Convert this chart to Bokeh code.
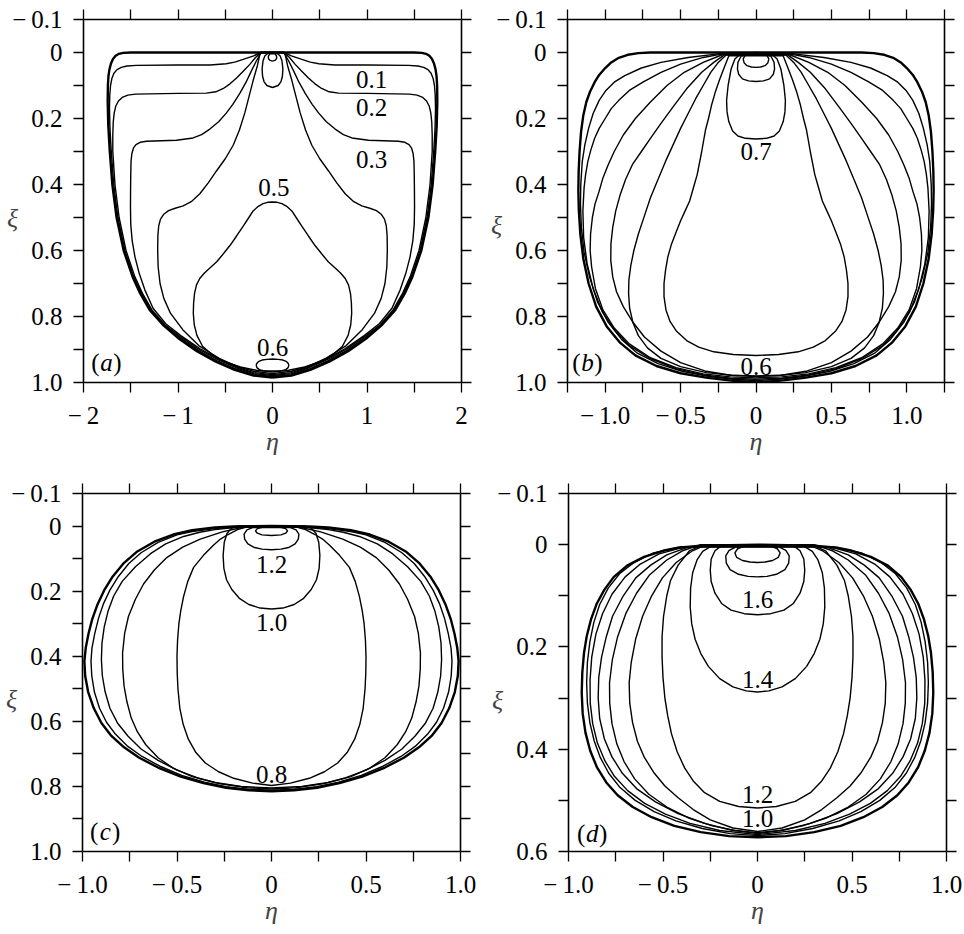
from bokeh.plotting import figure
from bokeh.models import Range1d, LinearAxis, FixedTicker, ColumnDataSource
from bokeh.layouts import column, row
from bokeh.embed import file_html
from bokeh.resources import INLINE
from bokeh.core.properties import value

SERIF = "Liberation Serif"
M = "\u2212\u2009"
FS = "25px"

# ---------------- tick values / labels ----------------
x_ticks_a = [-2.0, -1.5, -1.0, -0.5, 0.0, 0.5, 1.0, 1.5, 2.0]
x_labels_a = [M + "2", "", M + "1", "", "0", "", "1", "", "2"]
x_ticks_b = [-1.25, -1.0, -0.75, -0.5, -0.25, 0.0, 0.25, 0.5, 0.75, 1.0, 1.25]
x_labels_b = ["", M + "1.0", "", M + "0.5", "", "0", "", "0.5", "", "1.0", ""]
x_ticks_cd = [-1.0, -0.75, -0.5, -0.25, 0.0, 0.25, 0.5, 0.75, 1.0]
x_labels_cd = [M + "1.0", "", M + "0.5", "", "0", "", "0.5", "", "1.0"]
y_ticks_abc = [-0.1, 0.0, 0.1, 0.2, 0.3, 0.4, 0.5, 0.6, 0.7, 0.8, 0.9, 1.0]
y_labels_abc = [M + "0.1", "0", "", "0.2", "", "0.4", "", "0.6", "", "0.8", "", "1.0"]
y_ticks_d = [-0.1, 0.0, 0.1, 0.2, 0.3, 0.4, 0.5, 0.6]
y_labels_d = [M + "0.1", "0", "", "0.2", "", "0.4", "", "0.6"]

# ---------------- panel (a): right halves (eta, xi) ----------------
a_boundary = [(0.0, 0.0), (1.0, 0.0), (1.5, 0.0), (1.58, 0.001), (1.625, 0.004), (1.66, 0.01), (1.688, 0.02),
              (1.71, 0.034), (1.726, 0.052), (1.736, 0.072), (1.742, 0.1), (1.744, 0.15), (1.738, 0.22),
              (1.722, 0.3), (1.695, 0.4), (1.65, 0.5), (1.575, 0.6), (1.48, 0.68), (1.4, 0.73), (1.3, 0.78),
              (1.16, 0.825), (1.0, 0.865), (0.8, 0.905), (0.6, 0.937), (0.4, 0.962), (0.2, 0.979), (0.0, 0.985)]
a_c01 = [(0.12, 0.0), (0.2, 0.01), (0.31, 0.021), (0.4, 0.029), (0.49, 0.034), (0.66, 0.038), (1.0, 0.038),
         (1.44, 0.039), (1.54, 0.041), (1.6, 0.045), (1.645, 0.052), (1.678, 0.063), (1.7, 0.079), (1.714, 0.1),
         (1.722, 0.13), (1.725, 0.17), (1.72, 0.23), (1.706, 0.3), (1.68, 0.4), (1.636, 0.5), (1.562, 0.6),
         (1.468, 0.68), (1.388, 0.73), (1.288, 0.78), (1.15, 0.825), (0.99, 0.862), (0.79, 0.902), (0.59, 0.934),
         (0.39, 0.959), (0.2, 0.976), (0.0, 0.982)]
a_c02 = [(0.12, 0.0), (0.18, 0.015), (0.24, 0.036), (0.31, 0.057), (0.38, 0.077), (0.45, 0.095), (0.52, 0.109),
         (0.6, 0.119), (0.7, 0.123), (1.0, 0.124), (1.45, 0.126), (1.53, 0.129), (1.59, 0.136), (1.63, 0.147),
         (1.658, 0.162), (1.675, 0.183), (1.685, 0.21), (1.69, 0.25), (1.69, 0.3), (1.667, 0.4), (1.623, 0.5),
         (1.55, 0.6), (1.456, 0.68), (1.376, 0.73), (1.276, 0.78), (1.14, 0.825), (0.98, 0.86), (0.78, 0.899),
         (0.58, 0.931), (0.38, 0.956), (0.2, 0.973), (0.0, 0.979)]
a_c03 = [(0.12, 0.0), (0.17, 0.025), (0.222, 0.055), (0.28, 0.09), (0.346, 0.124), (0.42, 0.157), (0.487, 0.183),
         (0.57, 0.21), (0.663, 0.232), (0.75, 0.249), (0.84, 0.259), (1.016, 0.266), (1.333, 0.269), (1.4, 0.272),
         (1.445, 0.279), (1.472, 0.29), (1.488, 0.306), (1.497, 0.33), (1.5, 0.37), (1.502, 0.42), (1.503, 0.47),
         (1.5, 0.52), (1.485, 0.57), (1.455, 0.62), (1.41, 0.67), (1.35, 0.72), (1.264, 0.775), (1.13, 0.822),
         (0.97, 0.858), (0.77, 0.897), (0.57, 0.929), (0.37, 0.954), (0.2, 0.97), (0.0, 0.976)]
a_c04 = [(0.13, 0.0), (0.16, 0.04), (0.205, 0.085), (0.25, 0.135), (0.293, 0.183), (0.35, 0.235), (0.416, 0.281),
         (0.5, 0.322), (0.593, 0.359), (0.68, 0.395), (0.769, 0.428), (0.86, 0.452), (0.945, 0.465), (1.03, 0.472),
         (1.1, 0.479), (1.15, 0.49), (1.185, 0.505), (1.204, 0.525), (1.213, 0.555), (1.215, 0.6), (1.21, 0.65),
         (1.19, 0.7), (1.15, 0.745), (1.08, 0.79), (0.95, 0.84), (0.78, 0.888), (0.57, 0.926), (0.37, 0.952),
         (0.2, 0.966), (0.0, 0.973)]
a_c05 = [(0.0, 0.453), (0.05, 0.454), (0.1, 0.458), (0.15, 0.466), (0.205, 0.48), (0.25, 0.5), (0.31, 0.526),
         (0.38, 0.556), (0.45, 0.585), (0.52, 0.61), (0.59, 0.634), (0.66, 0.652), (0.72, 0.668), (0.77, 0.685),
         (0.805, 0.705), (0.825, 0.73), (0.835, 0.76), (0.838, 0.79), (0.828, 0.825), (0.8, 0.857), (0.74, 0.89),
         (0.64, 0.915), (0.52, 0.935), (0.34, 0.953), (0.17, 0.963), (0.0, 0.968)]
a_c06 = [(0.0, 0.929), (0.06, 0.93), (0.11, 0.932), (0.15, 0.937), (0.168, 0.943), (0.172, 0.948), (0.165, 0.955),
         (0.14, 0.961), (0.1, 0.964), (0.0, 0.965)]
a_c07 = [(0.0, 0.0), (0.05, 0.003), (0.08, 0.01), (0.1, 0.025), (0.11, 0.05), (0.105, 0.072), (0.09, 0.088),
         (0.06, 0.1), (0.0, 0.106)]
a_c08 = [(0.0, 0.003), (0.025, 0.004), (0.04, 0.009), (0.045, 0.014), (0.04, 0.02), (0.025, 0.024), (0.0, 0.026)]

# ---------------- panel (b) ----------------
b_boundary = [(0.0, 0.0), (0.7, 0.0), (0.78, 0.002), (0.85, 0.007), (0.91, 0.016), (0.96, 0.03), (1.0, 0.047),
              (1.04, 0.068), (1.07, 0.09), (1.1, 0.118), (1.125, 0.15), (1.145, 0.19), (1.16, 0.24), (1.17, 0.3),
              (1.176, 0.36), (1.178, 0.418), (1.175, 0.477), (1.165, 0.55), (1.145, 0.625), (1.11, 0.7),
              (1.06, 0.77), (0.99, 0.83), (0.9, 0.88), (0.8, 0.918), (0.66, 0.95), (0.5, 0.972), (0.32, 0.986),
              (0.15, 0.995), (0.0, 0.998)]
b_f6 = [(0.25, 0.004), (0.45, 0.015), (0.63, 0.03), (0.76, 0.047), (0.87, 0.07), (0.94, 0.09), (0.995, 0.115),
        (1.04, 0.145), (1.08, 0.185), (1.11, 0.23), (1.135, 0.28), (1.152, 0.33), (1.162, 0.4), (1.164, 0.46),
        (1.158, 0.53), (1.14, 0.605), (1.104, 0.68), (1.052, 0.755), (0.98, 0.818), (0.89, 0.87), (0.79, 0.91),
        (0.65, 0.943), (0.49, 0.966), (0.31, 0.982), (0.15, 0.99), (0.0, 0.994)]
b_f5 = [(0.23, 0.005), (0.35, 0.015), (0.5, 0.035), (0.63, 0.06), (0.75, 0.09), (0.84, 0.115), (0.91, 0.145),
        (0.96, 0.17), (1.0, 0.2), (1.04, 0.23), (1.07, 0.26), (1.095, 0.295), (1.115, 0.33), (1.13, 0.37),
        (1.14, 0.41), (1.148, 0.48), (1.143, 0.56), (1.12, 0.64), (1.08, 0.715), (1.02, 0.785), (0.94, 0.84),
        (0.84, 0.888), (0.7, 0.928), (0.53, 0.958), (0.35, 0.977), (0.17, 0.987), (0.0, 0.99)]
b_f4 = [(0.22, 0.006), (0.35, 0.03), (0.476, 0.06), (0.59, 0.1), (0.70, 0.15), (0.8, 0.2), (0.88, 0.25),
        (0.94, 0.3), (0.98, 0.34), (1.015, 0.38), (1.04, 0.42), (1.068, 0.46), (1.085, 0.5), (1.097, 0.55),
        (1.1, 0.6), (1.09, 0.65), (1.065, 0.715), (1.015, 0.78), (0.94, 0.835), (0.84, 0.883), (0.7, 0.925),
        (0.53, 0.955), (0.35, 0.974), (0.17, 0.983), (0.0, 0.986)]
b_f3 = [(0.21, 0.007), (0.28, 0.03), (0.36, 0.06), (0.46, 0.11), (0.55, 0.165), (0.63, 0.215), (0.7, 0.26),
        (0.76, 0.3), (0.82, 0.34), (0.865, 0.385), (0.9, 0.43), (0.93, 0.48), (0.95, 0.53), (0.962, 0.58),
        (0.963, 0.63), (0.95, 0.68), (0.925, 0.725), (0.88, 0.77), (0.82, 0.815), (0.74, 0.862), (0.63, 0.905),
        (0.5, 0.94), (0.34, 0.965), (0.17, 0.978), (0.0, 0.982)]
b_f2 = [(0.2, 0.008), (0.25, 0.03), (0.3, 0.06), (0.35, 0.1), (0.4, 0.14), (0.45, 0.185), (0.5, 0.23),
        (0.55, 0.28), (0.6, 0.33), (0.65, 0.385), (0.7, 0.44), (0.74, 0.495), (0.78, 0.55), (0.81, 0.6),
        (0.83, 0.645), (0.843, 0.69), (0.845, 0.73), (0.838, 0.775), (0.815, 0.82), (0.78, 0.858), (0.72, 0.895),
        (0.63, 0.927), (0.5, 0.952), (0.33, 0.97), (0.16, 0.978), (0.0, 0.98)]
b_f1 = [(0.18, 0.01), (0.21, 0.045), (0.24, 0.08), (0.27, 0.12), (0.295, 0.16), (0.315, 0.2), (0.335, 0.235),
        (0.36, 0.3), (0.39, 0.37), (0.415, 0.41), (0.44, 0.45), (0.47, 0.48), (0.5, 0.51), (0.53, 0.545),
        (0.56, 0.58), (0.585, 0.62), (0.6, 0.66), (0.61, 0.7), (0.61, 0.74), (0.597, 0.78), (0.57, 0.815),
        (0.53, 0.843), (0.46, 0.873), (0.38, 0.893), (0.28, 0.907), (0.15, 0.915), (0.0, 0.918)]
b_l3 = [(0.0, 0.0), (0.1, 0.003), (0.14, 0.02), (0.165, 0.05), (0.185, 0.1), (0.195, 0.145), (0.192, 0.18),
        (0.18, 0.21), (0.155, 0.238), (0.12, 0.253), (0.07, 0.26), (0.0, 0.262)]
b_l2 = [(0.0, 0.002), (0.07, 0.004), (0.1, 0.012), (0.12, 0.03), (0.123, 0.05), (0.115, 0.066), (0.09, 0.08),
        (0.05, 0.086), (0.0, 0.088)]
b_l1 = [(0.0, 0.002), (0.05, 0.004), (0.075, 0.01), (0.085, 0.02), (0.078, 0.032), (0.06, 0.04), (0.03, 0.044),
        (0.0, 0.045)]

# ---------------- panel (c) ----------------
c_boundary = [(0.0, 0.0), (0.2, 0.001), (0.3, 0.004), (0.42, 0.013), (0.52, 0.026), (0.62, 0.048), (0.71, 0.078),
              (0.78, 0.113), (0.84, 0.155), (0.885, 0.197), (0.92, 0.24), (0.948, 0.285), (0.968, 0.33),
              (0.983, 0.375), (0.99, 0.415), (0.986, 0.46), (0.97, 0.51), (0.94, 0.56), (0.9, 0.605),
              (0.85, 0.643), (0.78, 0.68), (0.70, 0.712), (0.6, 0.742), (0.48, 0.77), (0.36, 0.79), (0.24, 0.804),
              (0.12, 0.812), (0.0, 0.815)]
c_c4 = [(0.19, 0.003), (0.3, 0.008), (0.42, 0.017), (0.5, 0.027), (0.6, 0.05), (0.69, 0.082), (0.755, 0.115),
        (0.81, 0.155), (0.855, 0.197), (0.89, 0.24), (0.915, 0.283), (0.935, 0.33), (0.95, 0.375), (0.955, 0.415),
        (0.951, 0.46), (0.937, 0.51), (0.91, 0.56), (0.873, 0.603), (0.825, 0.64), (0.76, 0.677), (0.685, 0.708),
        (0.59, 0.738), (0.475, 0.766), (0.355, 0.787), (0.24, 0.801), (0.12, 0.809), (0.0, 0.812)]
c_c3 = [(0.17, 0.003), (0.3, 0.011), (0.38, 0.019), (0.465, 0.032), (0.56, 0.055), (0.64, 0.085), (0.72, 0.125),
        (0.79, 0.17), (0.835, 0.215), (0.865, 0.262), (0.885, 0.31), (0.897, 0.36), (0.9, 0.41), (0.895, 0.46),
        (0.88, 0.51), (0.855, 0.56), (0.815, 0.605), (0.76, 0.645), (0.69, 0.685), (0.6, 0.72), (0.5, 0.75),
        (0.39, 0.774), (0.27, 0.792), (0.13, 0.804), (0.0, 0.808)]
c_c2 = [(0.147, 0.003), (0.26, 0.018), (0.377, 0.04), (0.47, 0.065), (0.554, 0.097), (0.62, 0.135),
        (0.677, 0.178), (0.72, 0.225), (0.757, 0.278), (0.777, 0.33), (0.788, 0.39), (0.787, 0.44), (0.78, 0.492),
        (0.765, 0.54), (0.742, 0.59), (0.71, 0.632), (0.665, 0.672), (0.6, 0.712), (0.52, 0.744), (0.42, 0.77),
        (0.3, 0.788), (0.16, 0.8), (0.0, 0.805)]
c_c1 = [(0.132, 0.003), (0.18, 0.011), (0.23, 0.026), (0.27, 0.04), (0.306, 0.058), (0.36, 0.09), (0.412, 0.127),
        (0.443, 0.17), (0.465, 0.216), (0.48, 0.26), (0.49, 0.3), (0.497, 0.35), (0.5, 0.4), (0.499, 0.45),
        (0.495, 0.5), (0.485, 0.56), (0.467, 0.61), (0.44, 0.655), (0.4, 0.696), (0.35, 0.728), (0.28, 0.755),
        (0.2, 0.775), (0.1, 0.79), (0.0, 0.797)]
c_l3 = [(0.0, 0.0), (0.18, 0.0), (0.21, 0.006), (0.235, 0.022), (0.25, 0.05), (0.256, 0.09), (0.252, 0.13),
        (0.238, 0.165), (0.21, 0.195), (0.17, 0.222), (0.12, 0.241), (0.06, 0.252), (0.0, 0.255)]
c_l2 = [(0.0, 0.004), (0.1, 0.005), (0.13, 0.012), (0.145, 0.025), (0.142, 0.04), (0.125, 0.055), (0.09, 0.066),
        (0.05, 0.071), (0.0, 0.073)]
c_l1 = [(0.0, 0.003), (0.05, 0.004), (0.075, 0.008), (0.085, 0.015), (0.075, 0.022), (0.05, 0.027), (0.0, 0.029)]

# ---------------- panel (d) ----------------
d_boundary = [(0.0, 0.0), (0.3, 0.002), (0.42, 0.006), (0.5, 0.012), (0.6, 0.024), (0.69, 0.041), (0.76, 0.063),
              (0.81, 0.088), (0.85, 0.115), (0.88, 0.145), (0.903, 0.178), (0.918, 0.212), (0.927, 0.25),
              (0.93, 0.29), (0.925, 0.33), (0.91, 0.368), (0.885, 0.403), (0.85, 0.435), (0.8, 0.465),
              (0.74, 0.49), (0.66, 0.513), (0.56, 0.533), (0.44, 0.55), (0.3, 0.562), (0.15, 0.57), (0.0, 0.572)]
d_c10 = [(0.4, 0.004), (0.55, 0.016), (0.65, 0.034), (0.73, 0.057), (0.79, 0.085), (0.835, 0.117), (0.866, 0.152),
         (0.887, 0.19), (0.9, 0.23), (0.904, 0.27), (0.9, 0.31), (0.887, 0.348), (0.864, 0.384), (0.832, 0.416),
         (0.787, 0.447), (0.727, 0.475), (0.647, 0.5), (0.547, 0.522), (0.432, 0.54), (0.292, 0.555),
         (0.145, 0.565), (0.0, 0.569)]
d_c9 = [(0.38, 0.004), (0.52, 0.018), (0.62, 0.038), (0.7, 0.063), (0.77, 0.097), (0.82, 0.135), (0.855, 0.175),
        (0.877, 0.22), (0.886, 0.265), (0.885, 0.31), (0.872, 0.35), (0.847, 0.388), (0.807, 0.423),
        (0.757, 0.453), (0.687, 0.481), (0.597, 0.506), (0.487, 0.527), (0.357, 0.545), (0.2, 0.559), (0.0, 0.567)]
d_c8 = [(0.36, 0.004), (0.48, 0.02), (0.565, 0.04), (0.644, 0.065), (0.71, 0.1), (0.767, 0.14), (0.8, 0.18),
        (0.825, 0.22), (0.84, 0.26), (0.843, 0.3), (0.835, 0.34), (0.81, 0.38), (0.77, 0.415), (0.715, 0.447),
        (0.64, 0.477), (0.54, 0.503), (0.42, 0.526), (0.28, 0.545), (0.14, 0.558), (0.0, 0.565)]
d_c7 = [(0.3, 0.0), (0.397, 0.012), (0.48, 0.03), (0.573, 0.06), (0.64, 0.095), (0.697, 0.135), (0.74, 0.18),
        (0.768, 0.225), (0.783, 0.27), (0.782, 0.31), (0.77, 0.35), (0.744, 0.39), (0.705, 0.425), (0.65, 0.458),
        (0.575, 0.488), (0.48, 0.513), (0.36, 0.535), (0.238, 0.55), (0.12, 0.559), (0.0, 0.563)]
d_c6 = [(0.27, 0.0), (0.344, 0.012), (0.43, 0.035), (0.503, 0.065), (0.56, 0.1), (0.608, 0.14), (0.645, 0.185),
        (0.668, 0.23), (0.679, 0.27), (0.676, 0.31), (0.661, 0.348), (0.635, 0.385), (0.6, 0.415), (0.55, 0.445),
        (0.49, 0.472), (0.42, 0.495), (0.34, 0.518), (0.25, 0.538), (0.13, 0.554), (0.0, 0.561)]
d_l5 = [(0.0, 0.0), (0.3, 0.002), (0.36, 0.012), (0.42, 0.04), (0.46, 0.07), (0.48, 0.1), (0.497, 0.14),
        (0.505, 0.18), (0.505, 0.22), (0.5, 0.26), (0.49, 0.3), (0.475, 0.335), (0.455, 0.37), (0.425, 0.405),
        (0.385, 0.437), (0.34, 0.462), (0.28, 0.485), (0.2, 0.502), (0.1, 0.512), (0.0, 0.515)]
d_l4 = [(0.0, 0.0), (0.24, 0.002), (0.29, 0.013), (0.32, 0.03), (0.343, 0.055), (0.354, 0.085), (0.356, 0.122),
        (0.348, 0.155), (0.33, 0.185), (0.3, 0.213), (0.26, 0.238), (0.2, 0.262), (0.13, 0.278), (0.06, 0.286),
        (0.0, 0.288)]
d_l3 = [(0.0, 0.0), (0.19, 0.002), (0.225, 0.012), (0.245, 0.028), (0.25, 0.05), (0.245, 0.072), (0.225, 0.095),
        (0.19, 0.115), (0.14, 0.128), (0.07, 0.135), (0.0, 0.137)]
d_l2 = [(0.0, 0.002), (0.11, 0.004), (0.15, 0.011), (0.168, 0.022), (0.165, 0.036), (0.145, 0.049), (0.1, 0.058),
        (0.05, 0.062), (0.0, 0.063)]
d_l1 = [(0.0, 0.002), (0.07, 0.003), (0.105, 0.008), (0.12, 0.016), (0.11, 0.025), (0.08, 0.031), (0.04, 0.034),
        (0.0, 0.035)]

# ---------------- contour labels ----------------
a_lab_text = ["0.1", "0.2", "0.3", "0.5", "0.6"]
a_lab_x = [1.05, 1.05, 1.05, 0.014, 0.0]
a_lab_y = [0.083, 0.166, 0.323, 0.41, 0.895]
b_lab_text = ["0.7", "0.6"]
b_lab_x = [0.0, 0.0]
b_lab_y = [0.30, 0.951]
c_lab_text = ["1.2", "1.0", "0.8"]
c_lab_x = [0.0, 0.0, 0.0]
c_lab_y = [0.119, 0.297, 0.763]
d_lab_text = ["1.6", "1.4", "1.2", "1.0"]
d_lab_x = [0.0, 0.0, 0.0, 0.0]
d_lab_y = [0.108, 0.263, 0.488, 0.535]


def closed(half):
    xs = [-p[0] for p in reversed(half)] + [p[0] for p in half]
    ys = [p[1] for p in reversed(half)] + [p[1] for p in half]
    return xs, ys


def style_axis(ax, ticks, labels, show, standoff=9):
    ax.ticker = FixedTicker(ticks=ticks)
    ax.major_label_overrides = {t: (l if show else "") for t, l in zip(ticks, labels)}
    ax.axis_line_width = 1.6
    ax.axis_line_color = "black"
    ax.major_tick_line_width = 1.3
    ax.major_tick_line_color = "black"
    ax.major_tick_out = 10
    ax.major_tick_in = 0
    ax.minor_tick_line_color = None
    ax.major_label_text_font = SERIF
    ax.major_label_text_color = "black"
    ax.major_label_text_font_size = FS if show else "0px"
    ax.major_label_standoff = standoff if show else 0


def panel(xr, yr, xt, xl, yt, yl, w, h, bl, br, bt, bb, thick, thin, labs, letter, letter_xy, xi_lh):
    p = figure(width=w, height=h, x_range=Range1d(*xr), y_range=Range1d(*yr),
               output_backend="svg", toolbar_location=None, tools="",
               min_border_left=bl, min_border_right=br, min_border_top=bt, min_border_bottom=bb)
    p.outline_line_color = None
    p.grid.visible = False
    p.background_fill_color = "white"
    p.border_fill_color = "white"
    bx = p.xaxis[0]
    ly_ = p.yaxis[0]
    style_axis(bx, xt, xl, True, 9)
    style_axis(ly_, yt, yl, True, 11)
    bx.axis_label = "\u03b7"
    bx.axis_label_text_font = SERIF
    bx.axis_label_text_font_style = "italic"
    bx.axis_label_text_font_size = "26px"
    bx.axis_label_standoff = -5
    ly_.axis_label = " \n\u03be"
    ly_.axis_label_orientation = "horizontal"
    ly_.axis_label_text_font = SERIF
    ly_.axis_label_text_font_style = "italic"
    ly_.axis_label_text_font_size = "26px"
    ly_.axis_label_text_line_height = xi_lh
    ly_.axis_label_standoff = -9
    top = LinearAxis()
    style_axis(top, xt, xl, False)
    p.add_layout(top, "above")
    right = LinearAxis()
    style_axis(right, yt, yl, False)
    p.add_layout(right, "right")

    thin_src = ColumnDataSource(dict(xs=[closed(c)[0] for c in thin], ys=[closed(c)[1] for c in thin]))
    p.multi_line("xs", "ys", source=thin_src, line_color="black", line_width=1.4)
    thick_src = ColumnDataSource(dict(xs=[closed(thick)[0]], ys=[closed(thick)[1]]))
    p.multi_line("xs", "ys", source=thick_src, line_color="black", line_width=2.4)

    tx, ty, tt = labs
    p.text(x=tx, y=ty, text=tt, text_font=value(SERIF), text_font_size=value(FS),
           text_align="center", text_baseline="middle", text_color="black")
    lx, lyy = letter_xy
    p.text(x=[lx, lx], y=[lyy, lyy], text=["(", ")"], x_offset=[-11, 11],
           text_font=value(SERIF), text_font_size=value(FS),
           text_align="center", text_baseline="middle", text_color="black")
    p.text(x=[lx], y=[lyy], text=[letter], text_font=value(SERIF), text_font_size=value(FS),
           text_font_style="italic", text_align="center", text_baseline="middle", text_color="black")
    return p


pa = panel((-2.0, 2.0), (1.0, -0.1), x_ticks_a, x_labels_a, y_ticks_abc, y_labels_abc,
           488, 458, 83, 27, 19, 65, a_boundary,
           [a_c01, a_c02, a_c03, a_c04, a_c05, a_c06, a_c07, a_c08],
           (a_lab_x, a_lab_y, a_lab_text), "a", (-1.757, 0.94), 1.2)
pb = panel((-1.25, 1.25), (1.0, -0.1), x_ticks_b, x_labels_b, y_ticks_abc, y_labels_abc,
           476, 458, 77, 20, 19, 65, b_boundary,
           [b_f6, b_f5, b_f4, b_f3, b_f2, b_f1, b_l3, b_l2, b_l1],
           (b_lab_x, b_lab_y, b_lab_text), "b", (-1.118, 0.94), 1.7)
pc = panel((-1.0, 1.0), (1.0, -0.1), x_ticks_cd, x_labels_cd, y_ticks_abc, y_labels_abc,
           488, 469, 82, 28, 35, 62, c_boundary,
           [c_c4, c_c3, c_c2, c_c1, c_l3, c_l2, c_l1],
           (c_lab_x, c_lab_y, c_lab_text), "c", (-0.88, 0.94), 1.85)
pd_ = panel((-1.0, 1.0), (0.6, -0.1), x_ticks_cd, x_labels_cd, y_ticks_d, y_labels_d,
            476, 469, 80, 18, 34, 63, d_boundary,
            [d_c10, d_c9, d_c8, d_c7, d_c6, d_l5, d_l4, d_l3, d_l2, d_l1],
            (d_lab_x, d_lab_y, d_lab_text), "d", (-0.875, 0.565), 1.9)

layout = column(row(pa, pb), row(pc, pd_))
open("out.html", "w").write(file_html(layout, INLINE))
